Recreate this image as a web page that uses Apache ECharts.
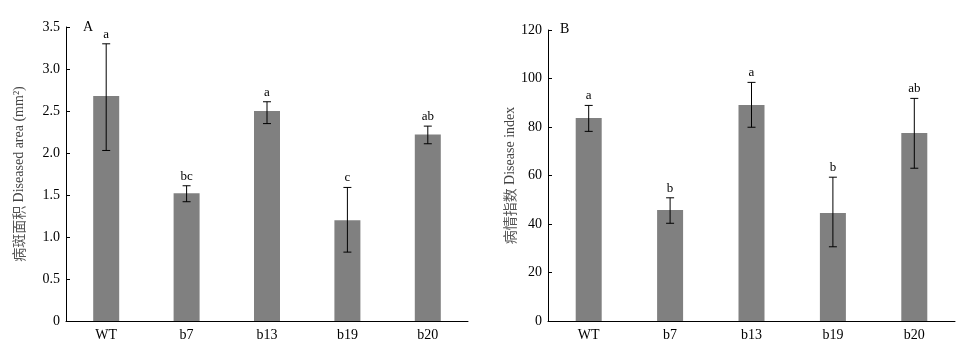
<!DOCTYPE html>
<html>
<head>
<meta charset="utf-8">
<script src="https://cdn.jsdelivr.net/npm/echarts@6/dist/echarts.min.js"></script>
<style>
  html, body { margin: 0; padding: 0; background: #fff; }
  #main { width: 967px; height: 351px; }
</style>
</head>
<body>
<div id="main"></div>
<script>
// categories
var lines = ["WT", "b7", "b13", "b19", "b20"];
// A: diseased area (mm2)
var areaMean = [2.68, 1.52, 2.50, 1.20, 2.22];
var areaHigh = [3.30, 1.61, 2.61, 1.59, 2.32];
var areaLow = [2.03, 1.42, 2.35, 0.82, 2.11];
var areaSig = ["a", "bc", "a", "c", "ab"];
// B: disease index
var indexMean = [83.7, 45.8, 89.1, 44.5, 77.5];
var indexHigh = [88.9, 50.8, 98.4, 59.3, 91.8];
var indexLow = [78.2, 40.3, 79.9, 30.6, 63.0];
var indexSig = ["a", "b", "a", "b", "ab"];

var serif = "'Liberation Serif', 'Times New Roman', serif";
var cjk = "'Noto Sans CJK SC', sans-serif";

function errData(high, low, sig) {
  return lines.map(function (c, i) { return [i, high[i], low[i], sig[i]]; });
}

// error bar with caps plus the significance letter above it
function renderErr(params, api) {
  var hi = api.coord([api.value(0), api.value(1)]);
  var lo = api.coord([api.value(0), api.value(2)]);
  var cap = 4;
  var st = { stroke: "#000", lineWidth: 1 };
  return {
    type: "group",
    children: [
      { type: "line", shape: { x1: hi[0], y1: hi[1], x2: lo[0], y2: lo[1] }, style: st },
      { type: "line", shape: { x1: hi[0] - cap, y1: hi[1], x2: hi[0] + cap, y2: hi[1] }, style: st },
      { type: "line", shape: { x1: lo[0] - cap, y1: lo[1], x2: lo[0] + cap, y2: lo[1] }, style: st },
      {
        type: "text",
        style: {
          x: hi[0], y: hi[1] - 3, text: String(api.value(3)),
          align: "center", verticalAlign: "bottom",
          font: "13px " + serif, fill: "#000"
        }
      }
    ]
  };
}

function xAxisCfg(idx) {
  return {
    type: "category", gridIndex: idx, data: lines,
    axisLine: { lineStyle: { color: "#000", width: 1 } },
    axisTick: { inside: true, length: 5, lineStyle: { color: "#000" } },
    axisLabel: { color: "#000", fontFamily: serif, fontSize: 14, margin: 7 },
    splitLine: { show: false }
  };
}

function yAxisCfg(idx, max, interval, fmt, nameRich, gap) {
  return {
    type: "value", gridIndex: idx, min: 0, max: max, interval: interval,
    name: nameRich, nameLocation: "middle", nameRotate: 90, nameGap: gap,
    nameTextStyle: {
      rich: {
        zh: { fontFamily: cjk, fontSize: 14, color: "#555" },
        en: { fontFamily: serif, fontSize: 14, color: "#444" }
      }
    },
    axisLine: { show: true, lineStyle: { color: "#000", width: 1 } },
    axisTick: { show: true, inside: true, length: 4, lineStyle: { color: "#000" } },
    axisLabel: { color: "#000", fontFamily: serif, fontSize: 14, margin: 6, formatter: fmt },
    splitLine: { show: false }
  };
}

var chart = echarts.init(document.getElementById("main"));
chart.setOption({
  animation: false,
  backgroundColor: "#fff",
  grid: [
    { left: 66, right: 499, top: 27, bottom: 30 },
    { left: 548, right: 12, top: 30, bottom: 30 }
  ],
  xAxis: [xAxisCfg(0), xAxisCfg(1)],
  yAxis: [
    yAxisCfg(0, 3.5, 0.5, function (v) { return v === 0 ? "0" : v.toFixed(1); },
      "{zh|病斑面积} {en|Diseased area (mm²)}", 40),
    yAxisCfg(1, 120, 20, function (v) { return String(v); },
      "{zh|病情指数} {en|Disease index}", 30)
  ],
  graphic: [
    { type: "text", left: 83, top: 20, style: { text: "A", font: "14px " + serif, fill: "#000" } },
    { type: "text", left: 560, top: 22, style: { text: "B", font: "14px " + serif, fill: "#000" } }
  ],
  series: [
    {
      type: "bar", xAxisIndex: 0, yAxisIndex: 0, data: areaMean,
      barWidth: 26, itemStyle: { color: "#808080" }
    },
    {
      type: "custom", xAxisIndex: 0, yAxisIndex: 0,
      data: errData(areaHigh, areaLow, areaSig), renderItem: renderErr, z: 3
    },
    {
      type: "bar", xAxisIndex: 1, yAxisIndex: 1, data: indexMean,
      barWidth: 26, itemStyle: { color: "#808080" }
    },
    {
      type: "custom", xAxisIndex: 1, yAxisIndex: 1,
      data: errData(indexHigh, indexLow, indexSig), renderItem: renderErr, z: 3
    }
  ]
});
</script>
</body>
</html>
